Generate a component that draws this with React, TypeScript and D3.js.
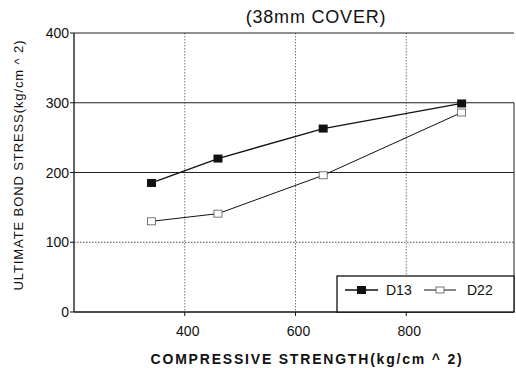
import * as d3 from "d3";
import { useEffect, useRef } from "react";

const strength = [340, 460, 650, 900];
const d13 = [185, 220, 263, 299];
const d22 = [130, 141, 196, 286];
const xTicks = [400, 600, 800];
const yTicks = [0, 100, 200, 300, 400];

export default function App() {
  const ref = useRef<SVGSVGElement | null>(null);

  useEffect(() => {
    if (!ref.current) return;
    const svg = d3.select(ref.current);
    svg.selectAll("*").remove();

    const left = 74;
    const right = 514;
    const top = 33;
    const bottom = 312;

    const x = d3.scaleLinear().domain([200, 1000]).range([left, right + 3]);
    const y = d3.scaleLinear().domain([0, 400]).range([bottom, top]);
    const font = "Liberation Sans, Arial, sans-serif";

    svg.append("rect").attr("width", 516).attr("height", 368).attr("fill", "#fff");

    // grid
    xTicks.forEach((t) => {
      svg
        .append("line")
        .attr("x1", x(t))
        .attr("x2", x(t))
        .attr("y1", top)
        .attr("y2", bottom)
        .attr("stroke", "#555")
        .attr("stroke-width", 0.8)
        .attr("stroke-dasharray", "1.5,1.5");
    });
    yTicks.slice(1).forEach((t) => {
      svg
        .append("line")
        .attr("x1", left)
        .attr("x2", right)
        .attr("y1", y(t))
        .attr("y2", y(t))
        .attr("stroke", "#222")
        .attr("stroke-width", t === 100 ? 0.8 : 1.2)
        .attr("stroke-dasharray", t === 100 ? "1.5,1.5" : null);
    });

    // axes
    svg
      .append("line")
      .attr("x1", left)
      .attr("x2", left)
      .attr("y1", top)
      .attr("y2", bottom)
      .attr("stroke", "#111")
      .attr("stroke-width", 1.3);
    svg
      .append("line")
      .attr("x1", left)
      .attr("x2", right)
      .attr("y1", bottom)
      .attr("y2", bottom)
      .attr("stroke", "#111")
      .attr("stroke-width", 1.3);
    svg
      .append("line")
      .attr("x1", right)
      .attr("x2", right)
      .attr("y1", y(300))
      .attr("y2", bottom)
      .attr("stroke", "#222")
      .attr("stroke-width", 1);

    yTicks.forEach((t) => {
      svg
        .append("line")
        .attr("x1", left - 4)
        .attr("x2", left)
        .attr("y1", y(t))
        .attr("y2", y(t))
        .attr("stroke", "#111");
      svg
        .append("text")
        .attr("x", left - 5)
        .attr("y", y(t) + 5)
        .attr("text-anchor", "end")
        .attr("font-family", font)
        .attr("font-size", 14)
        .attr("fill", "#111")
        .text(t);
    });
    xTicks.forEach((t) => {
      svg
        .append("line")
        .attr("x1", x(t))
        .attr("x2", x(t))
        .attr("y1", bottom)
        .attr("y2", bottom + 4)
        .attr("stroke", "#111");
      svg
        .append("text")
        .attr("x", x(t) + 3)
        .attr("y", bottom + 24)
        .attr("text-anchor", "middle")
        .attr("font-family", font)
        .attr("font-size", 14)
        .attr("fill", "#111")
        .text(t);
    });

    // lines
    const line = d3
      .line<number>()
      .x((_d, i) => x(strength[i]))
      .y((d) => y(d));

    svg.append("path").attr("d", line(d13)).attr("fill", "none").attr("stroke", "#111").attr("stroke-width", 1.3);
    svg.append("path").attr("d", line(d22)).attr("fill", "none").attr("stroke", "#111").attr("stroke-width", 1);

    d13.forEach((v, i) => {
      svg
        .append("rect")
        .attr("x", x(strength[i]) - 4.5)
        .attr("y", y(v) - 4)
        .attr("width", 9)
        .attr("height", 8)
        .attr("fill", "#111");
    });
    d22.forEach((v, i) => {
      svg
        .append("rect")
        .attr("x", x(strength[i]) - 4)
        .attr("y", y(v) - 3.5)
        .attr("width", 8)
        .attr("height", 7)
        .attr("fill", "#fff")
        .attr("stroke", "#555")
        .attr("stroke-width", 0.8);
    });

    // legend
    const lg = svg.append("g");
    lg.append("rect")
      .attr("x", 337)
      .attr("y", 276)
      .attr("width", right - 337)
      .attr("height", bottom - 276)
      .attr("fill", "#fff")
      .attr("stroke", "#111")
      .attr("stroke-width", 1.3);
    lg.append("line").attr("x1", 345).attr("x2", 378).attr("y1", 290).attr("y2", 290).attr("stroke", "#111").attr("stroke-width", 1.5);
    lg.append("rect").attr("x", 357).attr("y", 286).attr("width", 9).attr("height", 8).attr("fill", "#111");
    lg.append("text")
      .attr("x", 386)
      .attr("y", 295)
      .attr("font-family", font)
      .attr("font-size", 14)
      .attr("fill", "#111")
      .text("D13");
    lg.append("line").attr("x1", 424).attr("x2", 456).attr("y1", 290).attr("y2", 290).attr("stroke", "#111").attr("stroke-width", 1);
    lg.append("rect")
      .attr("x", 436)
      .attr("y", 287)
      .attr("width", 8)
      .attr("height", 6)
      .attr("fill", "#fff")
      .attr("stroke", "#555")
      .attr("stroke-width", 0.8);
    lg.append("text")
      .attr("x", 467)
      .attr("y", 295)
      .attr("font-family", font)
      .attr("font-size", 14)
      .attr("fill", "#111")
      .text("D22");

    // titles
    svg
      .append("text")
      .attr("x", 316)
      .attr("y", 23)
      .attr("text-anchor", "middle")
      .attr("font-family", font)
      .attr("font-size", 18)
      .attr("letter-spacing", 0.8)
      .attr("fill", "#111")
      .text("(38mm COVER)");
    svg
      .append("text")
      .attr("x", 307)
      .attr("y", 364)
      .attr("text-anchor", "middle")
      .attr("font-family", font)
      .attr("font-size", 14)
      .attr("font-weight", "bold")
      .attr("letter-spacing", 1.8)
      .attr("fill", "#111")
      .text("COMPRESSIVE STRENGTH(kg/cm ^ 2)");
    svg
      .append("text")
      .attr("transform", "translate(23,165) rotate(-90)")
      .attr("text-anchor", "middle")
      .attr("font-family", font)
      .attr("font-size", 13)
      .attr("letter-spacing", 0.9)
      .attr("fill", "#111")
      .text("ULTIMATE BOND STRESS(kg/cm ^ 2)");
  }, []);

  return (
    <svg
      ref={ref}
      width={516}
      height={368}
      style={{ position: "absolute", left: 0, top: 0, display: "block" }}
    />
  );
}
